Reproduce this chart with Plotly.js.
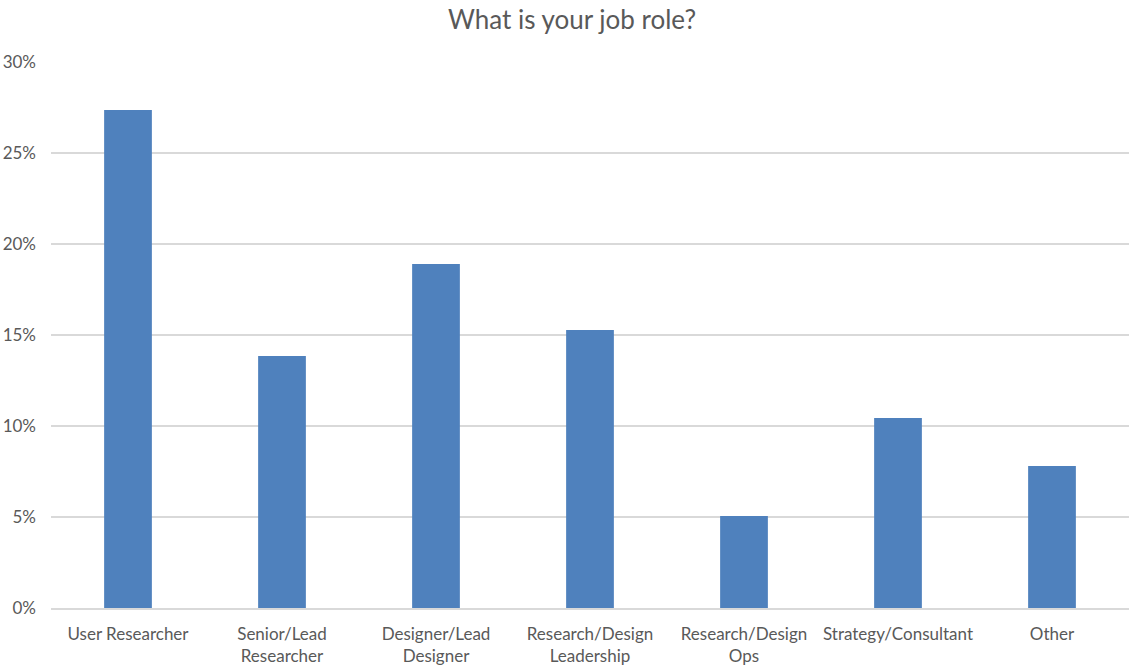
<!DOCTYPE html>
<html>
<head>
<meta charset="utf-8">
<script src="https://cdn.plot.ly/plotly-3.0.1.min.js"></script>
<style>html,body{margin:0;padding:0;background:#fff;}#chart{width:1144px;height:670px;}</style>
</head>
<body>
<div id="chart"></div>
<script>
const categories = ["User Researcher", "Senior/Lead<br>Researcher", "Designer/Lead<br>Designer", "Research/Design<br>Leadership", "Research/Design<br>Ops", "Strategy/Consultant", "Other"];
const values = [0.2736, 0.1385, 0.189, 0.1527, 0.0505, 0.1044, 0.078];
const yTickVals = [0, 0.05, 0.10, 0.15, 0.20, 0.25, 0.30];
const yTickText = ["0%", "5%", "10%", "15%", "20%", "25%", "30%"];

const font = "Lato, 'Open Sans', sans-serif";
Plotly.newPlot('chart', [{
  type: 'bar',
  x: categories,
  y: values,
  marker: {color: '#4F81BD'},
  width: 0.31,
  hoverinfo: 'x+y'
}], {
  width: 1144, height: 670,
  margin: {l: 51, r: 15, t: 62, b: 62},
  paper_bgcolor: '#fff', plot_bgcolor: '#fff',
  title: {text: 'What is your job role?', font: {family: font, size: 26, color: '#595959'}, x: 0.5, xanchor: 'center', y: 0.984, yanchor: 'top'},
  font: {family: font, color: '#595959', size: 17},
  xaxis: {showgrid: false, showline: true, linecolor: '#D9D9D9', linewidth: 1.5, ticks: '', ticklabelstandoff: 10, tickfont: {size: 17, color: '#595959'}, automargin: false},
  yaxis: {range: [0, 0.30], tickvals: yTickVals, ticktext: yTickText, showgrid: true, gridcolor: '#D9D9D9', gridwidth: 1.5, zeroline: false, showline: false, ticks: '', ticklabelstandoff: 14, tickfont: {size: 17, color: '#595959'}, automargin: false},
  showlegend: false
}, {displayModeBar: false});
</script>
</body>
</html>
